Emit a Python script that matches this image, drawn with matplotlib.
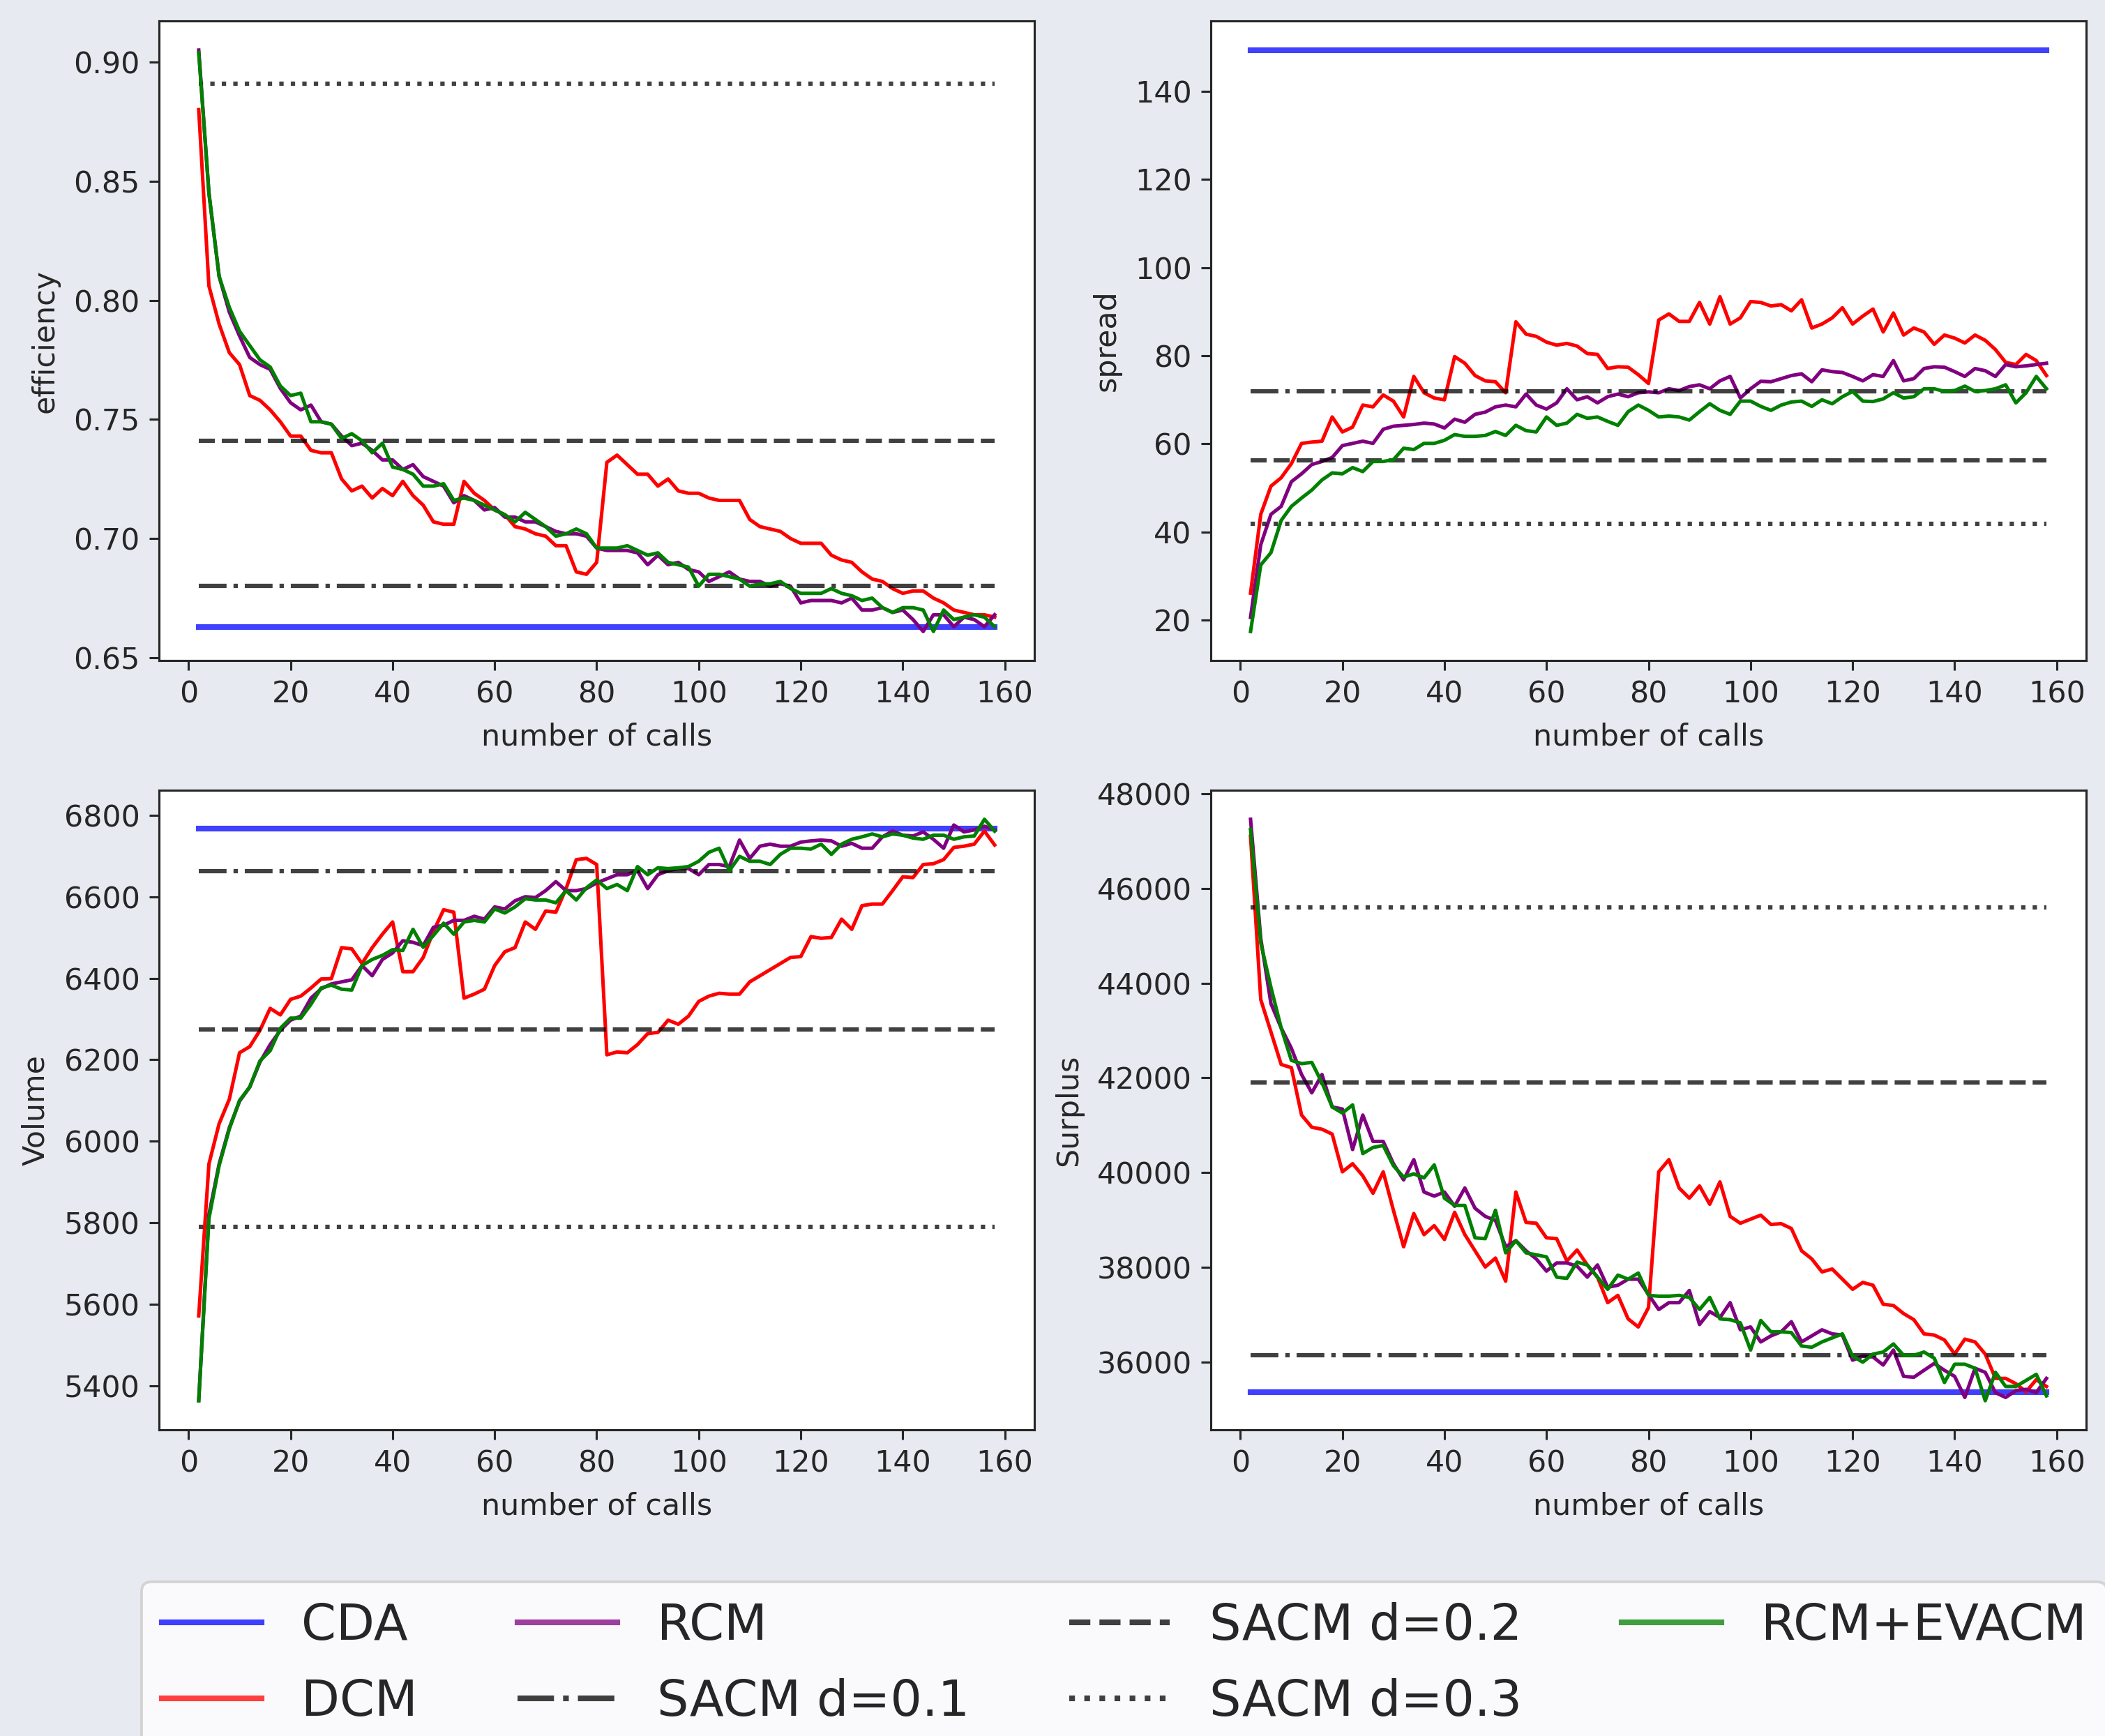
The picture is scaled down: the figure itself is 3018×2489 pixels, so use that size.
import numpy as np
import matplotlib
matplotlib.use("Agg")
import matplotlib.pyplot as plt

# number of calls on the x axis
calls = list(range(2, 160, 2))

# constant reference levels per panel: efficiency, spread, volume, surplus
cda = [0.663, 149.4, 6768, 35370]
sacm01 = [0.680, 71.9, 6662, 36150]
sacm02 = [0.741, 56.2, 6275, 41900]
sacm03 = [0.891, 41.9, 5790, 45600]

eff_dcm = [0.880, 0.806, 0.790, 0.778, 0.773, 0.760, 0.758, 0.754, 0.749, 0.743,
           0.743, 0.737, 0.736, 0.736, 0.725, 0.720, 0.722, 0.717, 0.721, 0.718,
           0.724, 0.718, 0.714, 0.707, 0.706, 0.706, 0.724, 0.719, 0.716, 0.712,
           0.710, 0.705, 0.704, 0.702, 0.701, 0.697, 0.697, 0.686, 0.685, 0.690,
           0.732, 0.735, 0.731, 0.727, 0.727, 0.722, 0.725, 0.720, 0.719, 0.719,
           0.717, 0.716, 0.716, 0.716, 0.708, 0.705, 0.704, 0.703, 0.700, 0.698,
           0.698, 0.698, 0.693, 0.691, 0.690, 0.686, 0.683, 0.682, 0.679, 0.677,
           0.678, 0.678, 0.675, 0.673, 0.670, 0.669, 0.668, 0.668, 0.667]
eff_rcm = [0.905, 0.845, 0.810, 0.795, 0.785, 0.776, 0.773, 0.771, 0.763, 0.757,
           0.754, 0.756, 0.749, 0.748, 0.743, 0.739, 0.740, 0.737, 0.733, 0.733,
           0.729, 0.731, 0.726, 0.724, 0.722, 0.715, 0.718, 0.716, 0.712, 0.713,
           0.709, 0.709, 0.707, 0.707, 0.705, 0.703, 0.702, 0.702, 0.701, 0.696,
           0.695, 0.695, 0.695, 0.694, 0.689, 0.693, 0.689, 0.690, 0.687, 0.686,
           0.682, 0.684, 0.686, 0.683, 0.682, 0.682, 0.680, 0.681, 0.680, 0.673,
           0.674, 0.674, 0.674, 0.673, 0.675, 0.670, 0.670, 0.671, 0.669, 0.670,
           0.666, 0.661, 0.668, 0.668, 0.663, 0.667, 0.666, 0.663, 0.668]
eff_evacm = [0.904, 0.845, 0.810, 0.797, 0.787, 0.781, 0.775, 0.772, 0.764, 0.760,
             0.761, 0.749, 0.749, 0.748, 0.742, 0.744, 0.741, 0.736, 0.740, 0.730,
             0.729, 0.727, 0.722, 0.722, 0.723, 0.716, 0.717, 0.716, 0.714, 0.712,
             0.710, 0.707, 0.711, 0.708, 0.705, 0.701, 0.702, 0.704, 0.702, 0.696,
             0.696, 0.696, 0.697, 0.695, 0.693, 0.694, 0.690, 0.689, 0.688, 0.680,
             0.685, 0.685, 0.684, 0.683, 0.680, 0.681, 0.681, 0.682, 0.679, 0.677,
             0.677, 0.677, 0.679, 0.677, 0.676, 0.674, 0.675, 0.671, 0.669, 0.671,
             0.671, 0.670, 0.661, 0.670, 0.666, 0.667, 0.668, 0.667, 0.663]

spr_dcm = [26.1, 44.0, 50.4, 52.3, 55.5, 60.1, 60.4, 60.6, 66.1, 62.7,
           63.8, 68.8, 68.4, 71.1, 69.7, 66.1, 75.3, 71.6, 70.4, 70.0,
           79.8, 78.3, 75.5, 74.3, 74.1, 71.6, 87.7, 84.9, 84.4, 83.1,
           82.4, 82.8, 82.2, 80.5, 80.3, 77.1, 77.5, 77.4, 75.7, 73.7,
           88.1, 89.5, 87.8, 87.8, 92.1, 87.2, 93.4, 87.2, 88.6, 92.3,
           92.1, 91.3, 91.6, 90.2, 92.7, 86.3, 87.2, 88.6, 90.9, 87.2,
           89.0, 90.6, 85.4, 89.7, 84.7, 86.3, 85.4, 82.6, 84.7, 84.0,
           82.9, 84.7, 83.5, 81.4, 78.5, 78.0, 80.3, 78.9, 75.5]
spr_rcm = [20.6, 37.1, 44.0, 45.8, 51.4, 53.2, 55.3, 56.0, 56.9, 59.6,
           60.1, 60.6, 60.1, 63.3, 64.0, 64.2, 64.4, 64.7, 64.5, 63.6,
           65.6, 64.9, 66.7, 67.2, 68.4, 68.8, 68.4, 71.3, 68.8, 67.9,
           69.3, 72.5, 70.0, 70.7, 69.3, 70.7, 71.3, 70.7, 71.6, 71.8,
           71.6, 72.5, 72.1, 73.0, 73.4, 72.5, 74.3, 75.3, 70.4, 72.5,
           74.2, 74.1, 74.8, 75.5, 75.9, 74.1, 76.8, 76.4, 76.2, 75.3,
           74.3, 75.7, 75.3, 78.9, 74.3, 74.8, 77.1, 77.5, 77.4, 76.4,
           75.3, 77.1, 76.6, 75.3, 78.0, 77.5, 77.7, 78.0, 78.3]
spr_evacm = [17.4, 32.5, 35.3, 42.6, 45.8, 47.7, 49.5, 51.8, 53.4, 53.2,
             54.6, 53.7, 56.0, 56.0, 56.4, 59.0, 58.7, 60.1, 60.1, 60.8,
             62.1, 61.7, 61.7, 61.9, 62.8, 61.9, 64.2, 63.0, 62.7, 66.1,
             64.2, 64.7, 66.7, 65.8, 66.1, 65.1, 64.2, 67.3, 68.8, 67.6,
             66.1, 66.3, 66.1, 65.4, 67.3, 69.1, 67.6, 66.7, 69.7, 69.7,
             68.5, 67.6, 68.8, 69.5, 69.7, 68.5, 70.0, 69.1, 70.7, 71.9,
             69.7, 69.6, 70.2, 71.6, 70.4, 70.7, 72.5, 72.5, 71.9, 72.1,
             73.1, 71.9, 72.1, 72.5, 73.4, 69.3, 71.6, 75.3, 72.5]

vol_dcm = [5571, 5944, 6043, 6103, 6217, 6232, 6272, 6326, 6310, 6348,
           6356, 6376, 6398, 6399, 6475, 6472, 6436, 6475, 6508, 6538,
           6416, 6416, 6451, 6515, 6568, 6562, 6351, 6361, 6373, 6431,
           6465, 6475, 6538, 6520, 6565, 6562, 6620, 6691, 6694, 6679,
           6212, 6219, 6217, 6237, 6264, 6267, 6297, 6287, 6307, 6343,
           6356, 6363, 6361, 6361, 6391, 6406, 6421, 6436, 6451, 6453,
           6502, 6498, 6500, 6545, 6520, 6578, 6582, 6582, 6615, 6649,
           6647, 6679, 6681, 6691, 6721, 6724, 6729, 6761, 6727]
vol_rcm = [5363, 5820, 5944, 6033, 6098, 6133, 6194, 6237, 6272, 6297,
           6307, 6351, 6374, 6386, 6391, 6396, 6431, 6406, 6446, 6462,
           6492, 6488, 6480, 6525, 6530, 6542, 6542, 6552, 6545, 6575,
           6570, 6590, 6600, 6598, 6615, 6637, 6615, 6615, 6620, 6634,
           6644, 6654, 6654, 6664, 6620, 6654, 6664, 6669, 6669, 6654,
           6679, 6679, 6674, 6739, 6694, 6724, 6729, 6724, 6724, 6734,
           6737, 6739, 6737, 6724, 6731, 6719, 6719, 6747, 6761, 6751,
           6749, 6759, 6741, 6719, 6776, 6759, 6764, 6773, 6764]
vol_evacm = [5363, 5810, 5940, 6030, 6100, 6133, 6197, 6222, 6277, 6302,
             6302, 6336, 6376, 6383, 6373, 6371, 6431, 6446, 6456, 6470,
             6468, 6520, 6476, 6505, 6535, 6508, 6538, 6542, 6538, 6570,
             6560, 6575, 6595, 6592, 6592, 6585, 6615, 6592, 6622, 6641,
             6620, 6630, 6615, 6674, 6654, 6671, 6669, 6671, 6674, 6687,
             6709, 6719, 6664, 6699, 6687, 6687, 6679, 6704, 6719, 6719,
             6717, 6729, 6704, 6729, 6741, 6747, 6754, 6747, 6754, 6751,
             6744, 6741, 6751, 6751, 6741, 6747, 6749, 6790, 6761]

sur_dcm = [47100, 43652, 42968, 42283, 42215, 41214, 40957, 40915, 40812, 40016,
           40187, 39931, 39563, 40016, 39204, 38434, 39135, 38690, 38879, 38588,
           39161, 38690, 38348, 38006, 38194, 37707, 39589, 38947, 38930, 38622,
           38605, 38134, 38365, 38049, 37792, 37253, 37407, 36911, 36740, 37150,
           40016, 40273, 39674, 39460, 39717, 39332, 39803, 39075, 38930, 39016,
           39101, 38904, 38921, 38819, 38348, 38177, 37903, 37963, 37749, 37535,
           37680, 37621, 37219, 37193, 37022, 36894, 36594, 36569, 36466, 36167,
           36483, 36424, 36167, 35654, 35654, 35542, 35371, 35628, 35483]
sur_rcm = [47459, 44939, 43566, 43054, 42625, 42070, 41684, 42070, 41385, 41342,
           40487, 41214, 40658, 40658, 40187, 39845, 40273, 39589, 39503, 39589,
           39289, 39674, 39246, 39075, 38990, 38434, 38562, 38348, 38177, 37920,
           38091, 38091, 38023, 37792, 38049, 37578, 37621, 37749, 37749, 37424,
           37108, 37253, 37253, 37510, 36792, 37065, 36937, 37253, 36680, 36740,
           36424, 36552, 36638, 36851, 36424, 36552, 36680, 36594, 36569, 36039,
           36124, 36107, 35936, 36252, 35697, 35679, 35825, 35970, 35825, 35697,
           35252, 35868, 35782, 35354, 35252, 35397, 35423, 35354, 35654]
sur_evacm = [47245, 44850, 43909, 43054, 42369, 42300, 42326, 41898, 41385, 41257,
             41428, 40401, 40530, 40572, 40145, 39905, 39973, 39888, 40162, 39460,
             39306, 39306, 38622, 38605, 39204, 38305, 38562, 38305, 38263, 38220,
             37792, 37766, 38108, 38049, 37792, 37535, 37835, 37749, 37878, 37407,
             37390, 37390, 37407, 37364, 37108, 37364, 36911, 36894, 36826, 36252,
             36877, 36638, 36638, 36621, 36338, 36312, 36424, 36509, 36594, 36124,
             35996, 36167, 36210, 36381, 36141, 36141, 36210, 36082, 35568, 35953,
             35953, 35868, 35183, 35782, 35483, 35483, 35611, 35739, 35286]

ylabels = ["efficiency", "spread", "Volume", "Surplus"]
dcm = [eff_dcm, spr_dcm, vol_dcm, sur_dcm]
rcm = [eff_rcm, spr_rcm, vol_rcm, sur_rcm]
evacm = [eff_evacm, spr_evacm, vol_evacm, sur_evacm]

plt.rcParams['font.family'] = ['DejaVu Sans']
plt.rcParams['font.size'] = 11
plt.rcParams['axes.edgecolor'] = '#262626'
plt.rcParams['xtick.color'] = '#262626'
plt.rcParams['ytick.color'] = '#262626'
plt.rcParams['text.color'] = '#262626'
plt.rcParams['axes.labelcolor'] = '#262626'

fig, axes = plt.subplots(2, 2, figsize=(3018 / 280, 2489 / 280), dpi=280)
fig.patch.set_facecolor('#e7ebf1')
fig.subplots_adjust(left=0.0755, right=0.9911, top=0.9879, bottom=0.1764,
                    wspace=0.2014, hspace=0.2028)

n = len(calls)
for k, ax in enumerate(axes.flat):
    ax.set_facecolor('white')
    ax.plot(calls, [cda[k]] * n, color='blue', alpha=0.75, lw=2.1, label='CDA')
    ax.plot(calls, dcm[k], color='red', lw=1.3, label='DCM')
    ax.plot(calls, rcm[k], color='purple', lw=1.3, label='RCM')
    ax.plot(calls, [sacm01[k]] * n, color='black', alpha=0.75, lw=1.6,
            linestyle='-.', label='SACM d=0.1')
    ax.plot(calls, [sacm02[k]] * n, color='black', alpha=0.75, lw=1.6,
            linestyle='--', label='SACM d=0.2')
    ax.plot(calls, [sacm03[k]] * n, color='black', alpha=0.75, lw=1.6,
            linestyle=':', label='SACM d=0.3')
    ax.plot(calls, evacm[k], color='green', lw=1.3, label='RCM+EVACM')
    ax.set_xlabel('number of calls', labelpad=5)
    ax.set_ylabel(ylabels[k], labelpad=5)
    ax.set_xticks([0, 20, 40, 60, 80, 100, 120, 140, 160])

axes[0, 0].set_yticks([0.65, 0.70, 0.75, 0.80, 0.85, 0.90])
axes[0, 0].yaxis.set_major_formatter(matplotlib.ticker.FormatStrFormatter('%.2f'))

handles, labels = axes[0, 0].get_legend_handles_labels()
leg = fig.legend(handles, labels, loc='upper left', ncol=4, fontsize=18.4,
                 bbox_to_anchor=(203 / 3018, 1 - 2268 / 2489), borderaxespad=0,
                 labelspacing=0.57, handletextpad=0.8)
for line in leg.get_lines():
    line.set_alpha(0.75)
    line.set_linewidth(2.1)

fig.savefig('out.png', dpi=280, facecolor=fig.get_facecolor())
